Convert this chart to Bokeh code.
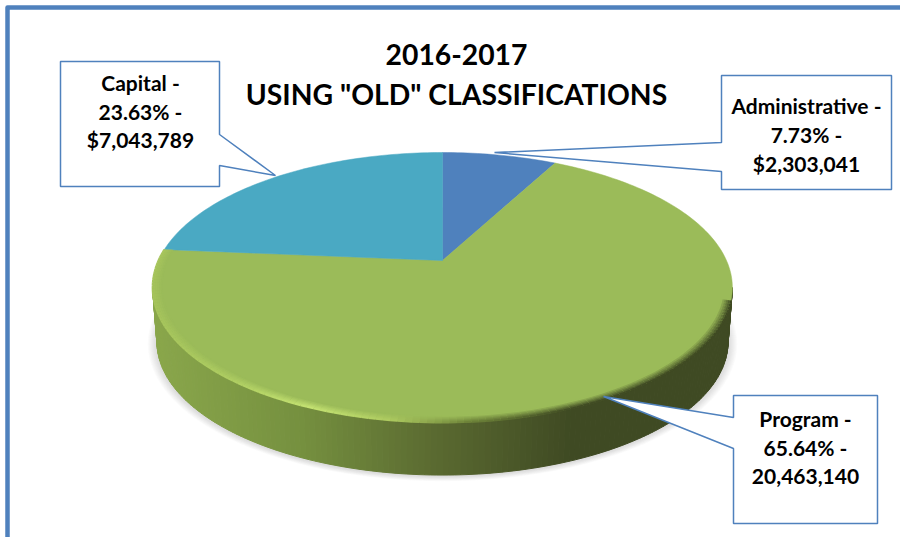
import math
from bokeh.plotting import figure
from bokeh.embed import file_html
from bokeh.resources import INLINE
from bokeh.core.properties import value

title_lines = ["2016-2017", 'USING "OLD" CLASSIFICATIONS']
categories = ["Administrative", "Program", "Capital"]
amounts = [2303041, 20463140, 7043789]
slice_colors = ["#4f81bd", "#9bbb59", "#4aa9c3"]
label_lines = [
    ["Administrative -", "7.73% -", "$2,303,041"],
    ["Program -", "65.64% -", "20,463,140"],
    ["Capital -", "23.63% -", "$7,043,789"],
]

FONT = "Lato"
BORDER = "#4f81bd"
CX, CY, A, B, K = 442.0, 260.0, 284.0, 129.6, 0.2


def proj(theta, r=1.0, dy=0.0, s=1.0):
    X, Y = r * math.sin(theta), r * math.cos(theta)
    d = 1 + K * Y
    return CX + s * A * X / d, CY + dy + s * B * Y * -1 / d


def hex2rgb(h):
    return tuple(int(h[i:i + 2], 16) for i in (1, 3, 5))


def mix(c1, c2, t):
    a, b = hex2rgb(c1), hex2rgb(c2)
    return "#%02x%02x%02x" % tuple(round(a[i] + (b[i] - a[i]) * t) for i in range(3))


def ramp(x, stops):
    if x <= stops[0][0]:
        return stops[0][1]
    for (x0, c0), (x1, c1) in zip(stops, stops[1:]):
        if x <= x1:
            return mix(c0, c1, (x - x0) / (x1 - x0))
    return stops[-1][1]


WALL = [(150, "#8aa74b"), (300, "#75903f"), (430, "#5b6b31"), (570, "#3f4a23"), (740, "#3f4a23")]
EDGE = [(150, "#a6c45c"), (230, "#aecd62"), (310, "#c4e272"), (390, "#adca60"),
        (470, "#6c8138"), (570, "#414c24"), (740, "#3f4a23")]
GREEN = slice_colors[1]
DY, S = 55.0, 0.985

p = figure(width=900, height=537, x_range=(0, 900), y_range=(537, 0),
           output_backend="svg", toolbar_location=None, min_border=0,
           outline_line_color=None, background_fill_color="white",
           styles={"position": "absolute", "left": "0px", "top": "0px"})
p.axis.visible = False
p.grid.visible = False

# outer frame (open towards right and bottom)
p.line([7, 7, 900], [537, 7, 7], line_color=BORDER, line_width=4.5, line_join="round")

# soft shadow under the wall
ts = [2 * math.pi * i / 180 for i in range(181)]
for d in range(1, 10):
    pts = [proj(t, dy=DY + 1, s=S + d / 285) for t in ts]
    p.patch([q[0] for q in pts], [q[1] for q in pts], fill_color="#808080",
            fill_alpha=0.035, line_color=None)

# wall strips along the front rim
n = 160
front = [math.acos(-K) + (2 * math.pi - 2 * math.acos(-K)) * i / n for i in range(n + 1)]
xs, ys, cols = [], [], []
for a, b in zip(front, front[1:]):
    a1, a2 = proj(a), proj(b)
    b1, b2 = proj(a, dy=DY, s=S), proj(b, dy=DY, s=S)
    xs.append([a1[0], a2[0], b2[0], b1[0]])
    ys.append([a1[1], a2[1], b2[1], b1[1]])
    cols.append(ramp((a1[0] + a2[0]) / 2, WALL))
p.patches(xs, ys, fill_color=cols, line_color=cols, line_width=1)

# top face, slices run clockwise from 12 o'clock
total = sum(amounts)
start = 0.0
for amount, col in zip(amounts, slice_colors):
    end = start + amount / total * 2 * math.pi
    steps = max(8, int(amount / total * 300))
    pts = [proj(start + (end - start) * i / steps) for i in range(steps + 1)]
    p.patch([CX] + [q[0] for q in pts], [CY] + [q[1] for q in pts],
            fill_color=col, line_color=col, line_width=0.5)
    start = end

# bevel on the front rim
layers = [1.0, 0.994, 0.988, 0.982, 0.976, 0.97]
rim_start = 2 * math.pi * (amounts[0] + amounts[1] * 0.32) / total
rim_end = 2 * math.pi * (amounts[0] + amounts[1]) / total
m = 140
rim = [rim_start + (rim_end - rim_start) * i / m for i in range(m + 1)]
for j, r in reversed(list(enumerate(layers))):
    lx, ly, lc = [], [], []
    t = j / (len(layers) - 1)
    for a, b in zip(rim, rim[1:]):
        q1, q2 = proj(a, r), proj(b, r)
        lx.append([q1[0], q2[0]])
        ly.append([q1[1], q2[1]])
        lc.append(mix(ramp((q1[0] + q2[0]) / 2, EDGE), GREEN, t))
    p.multi_line(lx, ly, line_color=lc, line_width=2)

# callouts
box_x = [[60, 219, 219, 275, 219, 219, 60, 60],
         [721, 891, 891, 721, 721, 494, 721, 721],
         [733, 877, 877, 733, 733, 603, 733, 733]]
box_y = [[61, 61, 134, 175, 165, 186, 186, 61],
         [75, 75, 189, 189, 171, 152, 142, 75],
         [395, 395, 523, 523, 448, 396, 417, 395]]
for bx, by in zip(box_x, box_y):
    p.patch(bx, by, fill_color="white", line_color=BORDER, line_width=1.5)

label_x = [806, 805, 140]
label_y = [[105, 134, 163], [418, 447, 476], [82, 111, 139]]
for lines, lx, lys in zip(label_lines, label_x, label_y):
    p.text([lx] * 3, lys, text=lines, text_font=value(FONT), text_font_style="bold",
           text_font_size="21px", text_color="#000000", text_align="center",
           text_baseline="middle")

p.text([456, 456], [54, 93], text=title_lines, text_font=value(FONT), text_font_style="bold",
       text_font_size="28.3px", text_color="#000000", text_align="center",
       text_baseline="middle")

open("out.html", "w").write(file_html(p, INLINE))
